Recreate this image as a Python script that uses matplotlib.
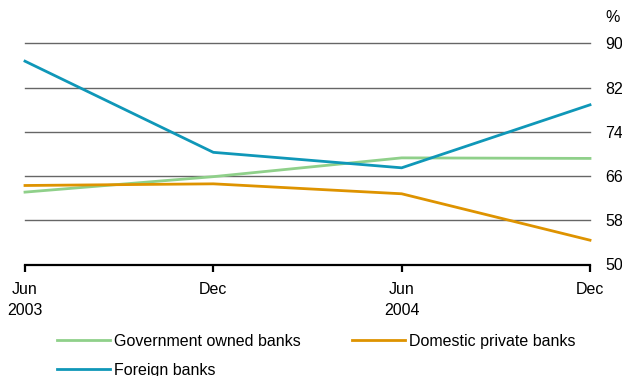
import matplotlib
matplotlib.use("Agg")
import matplotlib.pyplot as plt

# Share of banking-system assets, %
periods = ["Jun\n2003", "Dec", "Jun\n2004", "Dec"]
government = [63.1, 65.9, 69.3, 69.2]
domestic = [64.3, 64.6, 62.8, 54.4]
foreign = [86.8, 70.3, 67.5, 78.9]
y_ticks = [50, 58, 66, 74, 82, 90]

GREEN = "#8FD08A"
ORANGE = "#DE9300"
BLUE = "#0F97B8"

plt.rcParams["font.family"] = ["Liberation Sans", "DejaVu Sans"]
plt.rcParams["font.size"] = 11.5

fig = plt.figure(figsize=(6.22, 3.76), dpi=100)
ax = fig.add_axes([25 / 622, 1 - 264.5 / 376, 565 / 622, 221 / 376])

x = list(range(len(periods)))

# horizontal gridlines
for v in y_ticks[1:]:
    ax.axhline(v, color="#666666", lw=1.0, zorder=1, clip_on=False)

l_gov, = ax.plot(x, government, color=GREEN, lw=2.0, zorder=3,
                 label="Government owned banks", clip_on=False)
l_dom, = ax.plot(x, domestic, color=ORANGE, lw=2.0, zorder=3,
                 label="Domestic private banks", clip_on=False)
l_for, = ax.plot(x, foreign, color=BLUE, lw=2.0, zorder=4,
                 label="Foreign banks", clip_on=False)

ax.set_xlim(0, 3)
ax.set_ylim(50, 90)

for s in ["top", "left", "right"]:
    ax.spines[s].set_visible(False)
ax.spines["bottom"].set_color("black")
ax.spines["bottom"].set_linewidth(1.6)

ax.set_xticks(x)
ax.set_xticklabels(periods, linespacing=1.5)
ax.tick_params(axis="x", direction="out", length=5, width=1.6,
               color="black", pad=7.5)

ax.yaxis.tick_right()
ax.set_yticks(y_ticks)
ax.set_yticklabels([str(v) for v in y_ticks])
ax.tick_params(axis="y", length=0, pad=11)

fig.text(605 / 622, 1 - 17 / 376, "%", ha="left", va="center")

leg = fig.legend(handles=[l_gov, l_for, l_dom], ncol=2, frameon=False,
                 loc="upper left", bbox_to_anchor=(57 / 622, 1 - 334 / 376),
                 borderaxespad=0, borderpad=0, handlelength=3.3,
                 handletextpad=0.25, columnspacing=3.25, labelspacing=0.88)

fig.savefig("out.png", dpi=100)
